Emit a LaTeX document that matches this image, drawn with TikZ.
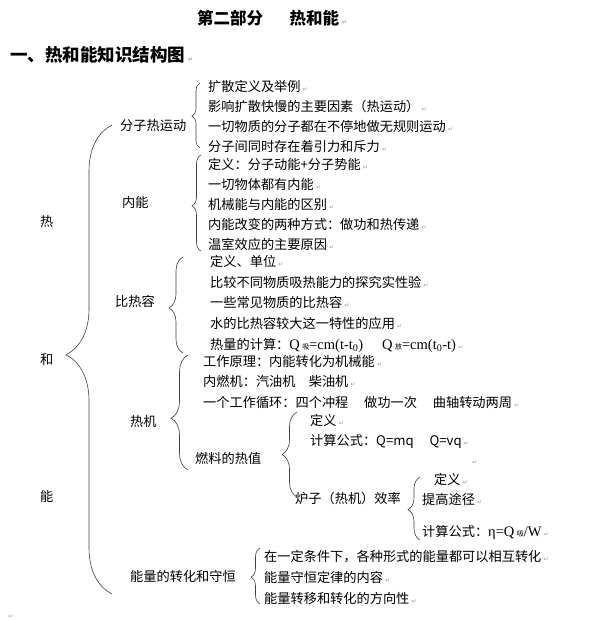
\documentclass[tikz,border=0pt]{standalone}
\usepackage{fontspec}
\setmainfont{Liberation Serif}
\newfontfamily\cjk{Noto Sans CJK SC}
\newfontfamily\symf{DejaVu Sans}
\usetikzlibrary{positioning}
\usetikzlibrary{decorations.pathreplacing}

% return mark as printed after each line
\newcommand\crm{\,{\symf\fontsize{6}{6}\selectfont\color{black!40}↵}}
\newcommand\sub[1]{\,{\cjk\fontsize{7}{7}\selectfont #1}}
\newcommand\frm[1]{{\rmfamily\fontsize{14.5}{14.5}\selectfont #1}}

\begin{document}
\begin{tikzpicture}[
    x=1pt, y=-1pt,
    txt/.style={anchor=west, inner sep=0pt, text height=11.5pt, text depth=2.5pt,
      font=\cjk\fontsize{13.2}{13.2}\selectfont},
    head/.style={anchor=west, inner sep=0pt, font=\cjk\bfseries\fontsize{#1}{#1}\selectfont},
    brc/.style={draw=black!75, line width=0.6pt, decorate,
      decoration={brace, amplitude=#1}}
    ]

    \fill[white] (0,0) rectangle (600,620);
    \useasboundingbox (0,0) rectangle (600,620);

    \node[head=16.5] (title) at (197,18) {第二部分\hspace{1.6em}热和能\crm};
    \node[head=17.5] (sect) at (10,55) {一、热和能知识结构图\crm};

    % left column
    \node[txt] (re) at (40,222) {热};
    \node[txt] (he) at (40,360) {和};
    \node[txt] (neng) at (40,497) {能};

    \coordinate (m0t) at (112,125);
    \coordinate (m0b) at (112,594);
    \draw[brc=46pt, decoration={aspect=0.51}] (m0b) -- (m0t);

    % 分子热运动
    \node[txt] (fz) at (120,126) {分子热运动};
    \node[txt] (a1) at (208,87) {扩散定义及举例\crm};
    \node[txt, below=5.5pt of a1.south west, anchor=north west] (a2) {影响扩散快慢的主要因素（热运动）\crm};
    \node[txt, below=5.5pt of a2.south west, anchor=north west] (a3) {一切物质的分子都在不停地做无规则运动\crm};
    \node[txt, below=5.5pt of a3.south west, anchor=north west] (a4) {分子间同时存在着引力和斥力\crm};
    \coordinate (b1t) at (200,83);
    \coordinate (b1b) at (200,148);
    \draw[brc=8pt, decoration={aspect=0.49}] (b1b) -- (b1t);

    % 内能
    \node[txt] (nn) at (122,203) {内能};
    \node[txt] (b1) at (208,165) {定义：分子动能+分子势能\crm};
    \node[txt, below=5.5pt of b1.south west, anchor=north west] (b2) {一切物体都有内能\crm};
    \node[txt, below=5.5pt of b2.south west, anchor=north west] (b3) {机械能与内能的区别\crm};
    \node[txt, below=5.5pt of b3.south west, anchor=north west] (b4) {内能改变的两种方式：做功和热传递\crm};
    \node[txt, below=5.5pt of b4.south west, anchor=north west] (b5) {温室效应的主要原因\crm};
    \coordinate (b2t) at (201,155);
    \coordinate (b2b) at (201,251);
    \draw[brc=9pt, decoration={aspect=0.47}] (b2b) -- (b2t);

    % 比热容
    \node[txt] (brr) at (115,302) {比热容};
    \node[txt] (c1) at (210,262) {定义、单位\crm};
    \node[txt, below=6.3pt of c1.south west, anchor=north west] (c2) {比较不同物质吸热能力的探究实性验\crm};
    \node[txt, below=6.3pt of c2.south west, anchor=north west] (c3) {一些常见物质的比热容\crm};
    \node[txt, below=6.3pt of c3.south west, anchor=north west] (c4) {水的比热容较大这一特性的应用\crm};
    \node[txt, below=6.3pt of c4.south west, anchor=north west] (c5) {热量的计算：\frm{Q\sub{吸}=cm(t-t\textsubscript{0})\hspace{1.3em}Q\sub{放}=cm(t\textsubscript{0}-t)}\crm};
    \coordinate (b3t) at (183,257);
    \coordinate (b3b) at (183,353);
    \draw[brc=14pt, decoration={aspect=0.47}] (b3b) -- (b3t);

    % 热机
    \node[txt] (rj) at (130,422) {热机};
    \node[txt] (d1) at (203,362) {工作原理：内能转化为机械能\crm};
    \node[txt, below=6pt of d1.south west, anchor=north west] (d2) {内燃机：汽油机\hspace{1em}柴油机\crm};
    \node[txt, below=6pt of d2.south west, anchor=north west] (d3) {一个工作循环：四个冲程\hspace{1.2em}做功一次\hspace{1.2em}曲轴转动两周\crm};
    \node[txt] (d4) at (195,459) {燃料的热值};
    \coordinate (b4t) at (188,355);
    \coordinate (b4b) at (188,470);
    \draw[brc=17pt, decoration={aspect=0.45}] (b4b) -- (b4t);

    % 燃料的热值
    \node[txt] (e1) at (310,421) {定义\crm};
    \node[txt] (e2) at (310,441) {计算公式：Q=mq\hspace{1.2em}Q=vq\crm};
    \node[txt] (m1) at (470,460) {\crm};
    \node[txt] (e3) at (295,499) {炉子（热机）效率};
    \coordinate (b5t) at (297,412);
    \coordinate (b5b) at (297,497);
    \draw[brc=15pt, decoration={aspect=0.5}] (b5b) -- (b5t);

    % 效率
    \node[txt] (f1) at (434,480) {定义\crm};
    \node[txt] (f2) at (422,500) {提高途径\crm};
    \node[txt] (f3) at (422,532) {计算公式：\frm{η=Q\sub{吸}/W}\crm};
    \coordinate (b6t) at (420,477);
    \coordinate (b6b) at (420,540);
    \draw[brc=12pt, decoration={aspect=0.48}] (b6b) -- (b6t);

    % 能量的转化和守恒
    \node[txt] (nl) at (130,577) {能量的转化和守恒};
    \node[txt] (g1) at (264,557) {在一定条件下，各种形式的能量都可以相互转化\crm};
    \node[txt, below=6.5pt of g1.south west, anchor=north west] (g2) {能量守恒定律的内容\crm};
    \node[txt, below=6.5pt of g2.south west, anchor=north west] (g3) {能量转移和转化的方向性\crm};
    \coordinate (b7t) at (260,548);
    \coordinate (b7b) at (260,604);
    \draw[brc=9pt, decoration={aspect=0.48}] (b7b) -- (b7t);

    \node[txt] (m2) at (6,614) {\crm};

\end{tikzpicture}
\end{document}
